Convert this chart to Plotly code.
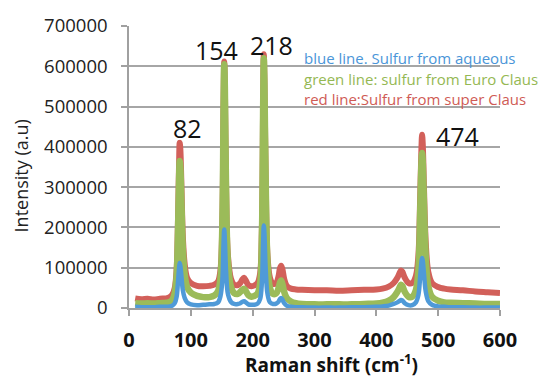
import plotly.graph_objects as go

raman_shift = [10, 20, 30, 40, 50, 60, 66, 70, 74, 77, 79, 81, 82, 83, 85, 87, 90, 94,
               100, 110, 120, 130, 138, 144, 148, 151, 153, 154, 155, 157, 160, 165, 170,
               176, 180, 183, 186, 189, 193, 198, 203, 208, 212, 215, 217, 218, 219, 221,
               224, 228, 233, 238, 242, 244, 246, 248, 251, 255, 262, 270, 280, 300, 320,
               340, 360, 380, 400, 410, 420, 428, 434, 438, 440, 442, 446, 452, 458, 464,
               468, 471, 473, 474, 475, 477, 480, 484, 490, 500, 510, 520, 540, 560, 580, 600]

red_super_claus = [24000, 22000, 23000, 21000, 23000, 24000, 27000, 33000, 50000, 95000,
                   200000, 360000, 410000, 395000, 290000, 180000, 110000, 75000,
                   62000, 55000, 54000, 55000, 58000, 66000, 95000, 220000, 520000, 612000,
                   560000, 300000, 130000, 72000, 58000,
                   57000, 62000, 70000, 75000, 68000, 57000, 54000, 56000, 62000, 85000,
                   200000, 520000, 630000, 570000, 330000,
                   130000, 75000, 60000, 62000, 80000, 98000, 105000, 97000, 72000, 55000,
                   48000, 46000, 45000, 44000, 44000,
                   43000, 44000, 45000, 46000, 48000, 53000, 62000, 75000, 88000, 93000,
                   90000, 75000, 62000, 62000, 80000,
                   130000, 280000, 400000, 430000, 410000, 300000, 160000, 90000, 62000,
                   52000, 48000, 46000, 44000, 41000, 39000, 37000]

green_euro_claus = [12000, 11000, 12000, 11000, 12000, 13000, 15000, 20000, 38000, 80000,
                    175000, 320000, 365000, 350000, 250000, 150000, 85000, 52000,
                    38000, 30000, 27000, 27000, 31000, 42000, 75000, 210000, 510000, 605000,
                    550000, 290000, 115000, 52000, 37000,
                    35000, 40000, 45000, 48000, 42000, 32000, 28000, 30000, 36000, 60000,
                    185000, 505000, 620000, 560000, 320000,
                    115000, 50000, 35000, 36000, 50000, 62000, 68000, 60000, 40000, 25000,
                    16000, 12000, 10000, 9000, 9000,
                    9000, 9000, 10000, 11000, 13000, 18000, 27000, 40000, 52000, 58000,
                    55000, 40000, 28000, 28000, 45000,
                    95000, 245000, 360000, 385000, 365000, 260000, 125000, 55000, 28000,
                    18000, 14000, 13000, 12000, 11000, 10000, 10000]

blue_aqueous = [3000, 2000, 2000, 2000, 3000, 3000, 4000, 6000, 12000, 28000,
                60000, 100000, 112000, 105000, 75000, 45000, 25000, 14000,
                9000, 7000, 8000, 9000, 10000, 14000, 30000, 70000, 165000, 195000,
                170000, 90000, 35000, 15000, 10000,
                10000, 12000, 15000, 17000, 14000, 9000, 8000, 8000, 11000, 22000,
                65000, 165000, 205000, 185000, 100000,
                35000, 14000, 10000, 11000, 16000, 22000, 25000, 21000, 12000, 6000,
                3000, 2000, 2000, 1000, 1000,
                1000, 2000, 2000, 3000, 4000, 6000, 10000, 14000, 18000, 20000,
                19000, 12000, 7000, 7000, 14000,
                32000, 80000, 115000, 124000, 118000, 85000, 40000, 17000, 8000,
                4000, 3000, 2000, 2000, 1000, 1000, 1000]

peak_labels = ["82", "154", "218", "474"]
peak_label_x = [95, 142, 231, 532]
peak_label_y = [448000, 640000, 654000, 428000]

legend_texts = ["blue line. Sulfur from aqueous",
                "green line: sulfur from Euro Claus",
                "red line:Sulfur from super Claus"]
legend_colors = ["#4a95d8", "#95b853", "#cf5b55"]

RED = "#d2605a"
GREEN = "#9bbb59"
BLUE = "#4f9ad8"

fig = go.Figure()
fig.add_trace(go.Scatter(x=raman_shift, y=red_super_claus, mode="lines",
                         line=dict(color=RED, width=6), line_shape="spline",
                         name="red line:Sulfur from super Claus"))
fig.add_trace(go.Scatter(x=raman_shift, y=green_euro_claus, mode="lines",
                         line=dict(color=GREEN, width=6.5), line_shape="spline",
                         name="green line: sulfur from Euro Claus"))
fig.add_trace(go.Scatter(x=raman_shift, y=blue_aqueous, mode="lines",
                         line=dict(color=BLUE, width=4.5), line_shape="spline",
                         name="blue line. Sulfur from aqueous"))

annotations = []
for t, xv, yv in zip(peak_labels, peak_label_x, peak_label_y):
    annotations.append(dict(x=xv, y=yv, xref="x", yref="y", text=t, showarrow=False,
                            font=dict(family="Open Sans", size=25, color="#111111"),
                            xanchor="center", yanchor="middle"))

legend_y = [0.886, 0.813, 0.740]
for t, c, yy in zip(legend_texts, legend_colors, legend_y):
    annotations.append(dict(x=0.466, y=yy, xref="paper", yref="paper", text=t,
                            showarrow=False, xanchor="left", yanchor="middle",
                            font=dict(family="Open Sans", size=15, color=c)))

annotations.append(dict(x=0.545, y=-0.2, xref="paper", yref="paper",
                        text="<b>Raman shift (cm<sup>-1</sup>)</b>", showarrow=False,
                        xanchor="center", yanchor="middle",
                        font=dict(family="Open Sans", size=19, color="#111111")))
annotations.append(dict(x=-0.29, y=0.468, xref="paper", yref="paper",
                        text="Intensity (a.u)", showarrow=False, textangle=-90,
                        xanchor="center", yanchor="middle",
                        font=dict(family="Open Sans", size=18, color="#222222")))

fig.update_layout(
    width=542, height=381,
    margin=dict(l=129, r=42, t=20, b=73),
    paper_bgcolor="white", plot_bgcolor="white",
    showlegend=False,
    annotations=annotations,
    xaxis=dict(range=[0, 600], tickvals=[0, 100, 200, 300, 400, 500, 600],
               showgrid=False, zeroline=False, showline=True, linecolor="#a0a0a0",
               linewidth=1.5, ticks="outside", ticklen=6, tickcolor="#a0a0a0",
               tickwidth=1.5, ticklabelstandoff=7,
               tickfont=dict(family="Open Sans", size=20, color="#111111", weight="bold")),
    yaxis=dict(range=[0, 700000], dtick=100000, tickformat="d",
               showgrid=True, gridcolor="#a6a6a6", gridwidth=1.5, zeroline=False,
               showline=True, linecolor="#a0a0a0", linewidth=1.5,
               ticks="outside", ticklen=6, tickcolor="#a0a0a0", tickwidth=1.5,
               ticklabelstandoff=10,
               tickfont=dict(family="Open Sans", size=18.5, color="#222222")),
)

fig.write_html("out.html")
